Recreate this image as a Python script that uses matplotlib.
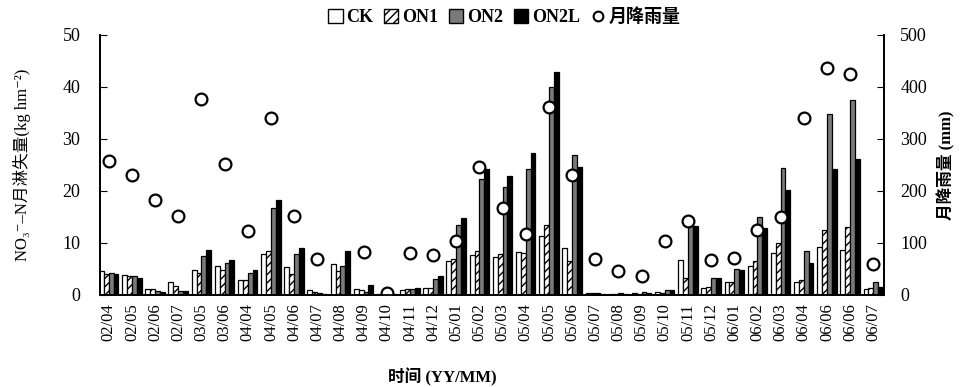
import numpy as np
import matplotlib
matplotlib.use('Agg')
import matplotlib.pyplot as plt
from matplotlib.patches import Patch
from matplotlib.lines import Line2D

plt.rcParams['font.family'] = ['Liberation Serif', 'DejaVu Serif', 'Noto Sans CJK SC']
plt.rcParams['hatch.linewidth'] = 1.0

# month labels (YY/MM)
months = ['02/04', '02/05', '02/06', '02/07', '03/05', '03/06', '04/04', '04/05',
          '04/06', '04/07', '04/08', '04/09', '04/10', '04/11', '04/12', '05/01',
          '05/02', '05/03', '05/04', '05/05', '05/06', '05/07', '05/08', '05/09',
          '05/10', '05/11', '05/12', '06/01', '06/02', '06/03', '06/04', '06/06',
          '06/06', '06/07']

# NO3--N monthly leaching (kg hm-2)
ck   = [4.6, 3.8, 1.2, 2.4, 4.8, 5.5, 2.8, 7.9, 5.3, 1.0, 5.9, 1.2, 0.1, 1.0, 1.4, 6.6, 7.7,
        7.3, 8.2, 11.4, 9.1, 0.4, 0.2, 0.3, 0.6, 6.7, 1.4, 2.4, 5.6, 8.0, 2.4, 9.3, 8.6, 1.1]
on1  = [4.0, 3.7, 1.2, 1.7, 4.3, 4.8, 2.8, 8.4, 4.0, 0.5, 4.6, 1.0, 0.1, 1.1, 1.4, 6.9, 8.5,
        7.9, 8.0, 13.5, 6.6, 0.3, 0.2, 0.2, 0.3, 3.3, 1.6, 2.4, 6.6, 9.9, 2.8, 12.5, 13.1, 1.4]
on2  = [4.3, 3.6, 0.7, 0.8, 7.5, 6.2, 4.2, 16.7, 7.9, 0.3, 5.6, 0.6, 0.1, 1.2, 3.0, 13.5, 22.3,
        20.7, 24.3, 40.0, 26.8, 0.3, 0.3, 0.5, 1.0, 15.0, 3.3, 5.0, 14.9, 24.4, 8.5, 34.7, 37.4, 2.4]
on2l = [4.0, 3.2, 0.6, 0.8, 8.7, 6.7, 4.8, 18.3, 9.1, 0.2, 8.4, 1.9, 0.1, 1.3, 3.7, 14.8, 24.3,
        22.8, 27.2, 42.9, 24.6, 0.2, 0.2, 0.4, 1.0, 13.3, 3.3, 4.8, 12.9, 20.1, 6.2, 24.3, 26.2, 1.6]

# monthly rainfall (mm); no circle visible for 04/08
rain = [258, 230, 183, 151, 376, 252, 122, 340, 152, 69, np.nan, 82, 3, 80, 77, 104, 246,
        167, 117, 362, 231, 69, 46, 37, 103, 143, 67, 71, 125, 150, 340, 437, 424, 60]

x = np.arange(len(months))
w = 0.21

fig = plt.figure(figsize=(9.7, 3.87), dpi=100)
ax = fig.add_axes([0.103, 0.238, 0.808, 0.672])

ax.bar(x - 1.5 * w, ck, w, color='white', edgecolor='black', lw=0.9, label='CK')
ax.bar(x - 0.5 * w, on1, w, color='white', edgecolor='black', lw=0.9, hatch='////', label='ON1')
ax.bar(x + 0.5 * w, on2, w, color='#7a7a7a', edgecolor='black', lw=0.9, label='ON2')
ax.bar(x + 1.5 * w, on2l, w, color='black', edgecolor='black', lw=0.9, label='ON2L')

ax.set_xlim(-0.38, len(months) - 0.55)
ax.set_ylim(0, 50)
ax.set_yticks(np.arange(0, 51, 10))
ax.set_xticks(x)
ax.set_xticklabels(months, rotation=90, fontsize=12)
ax.tick_params(axis='x', length=0, pad=6)
ax.tick_params(axis='y', direction='in', length=5, labelsize=13, pad=14)
ax.spines['top'].set_visible(False)
for s in ax.spines.values():
    s.set_linewidth(1.3)

ax.set_ylabel('NO\u2083\u207b\u2013N月淋失量(kg hm\u207b\u00b2)', fontsize=12)
ax.yaxis.set_label_coords(-0.088, 0.5)
ax.set_xlabel('时间 (YY/MM)', fontsize=12, fontweight='bold')
ax.xaxis.set_label_coords(0.4375, -0.28)

ax2 = ax.twinx()
ax2.plot(x, rain, 'o', ms=8.5, mfc='white', mec='black', mew=1.6, label='月降雨量')
ax2.set_ylim(0, 500)
ax2.set_yticks(np.arange(0, 501, 100))
ax2.tick_params(axis='y', direction='in', length=5, labelsize=13, pad=12)
ax2.spines['top'].set_visible(False)
for s in ax2.spines.values():
    s.set_linewidth(1.3)
ax2.set_ylabel('月降雨量 (mm)', fontsize=12, fontweight='bold')
ax2.yaxis.set_label_coords(1.068, 0.5)

handles = [Patch(facecolor='white', edgecolor='black', label='CK'),
           Patch(facecolor='white', edgecolor='black', hatch='////', label='ON1'),
           Patch(facecolor='#7a7a7a', edgecolor='black', label='ON2'),
           Patch(facecolor='black', edgecolor='black', label='ON2L'),
           Line2D([], [], ls='none', marker='o', ms=7, mfc='white', mec='black', mew=1.5,
                  label='月降雨量')]
leg = fig.legend(handles=handles, loc='center', bbox_to_anchor=(0.52, 0.955), ncol=5,
                 frameon=False, fontsize=13, handlelength=0.8, handleheight=0.8,
                 handletextpad=0.2, columnspacing=0.6)
for t in leg.get_texts():
    t.set_fontweight('bold')

fig.savefig('out.png', dpi=100)
